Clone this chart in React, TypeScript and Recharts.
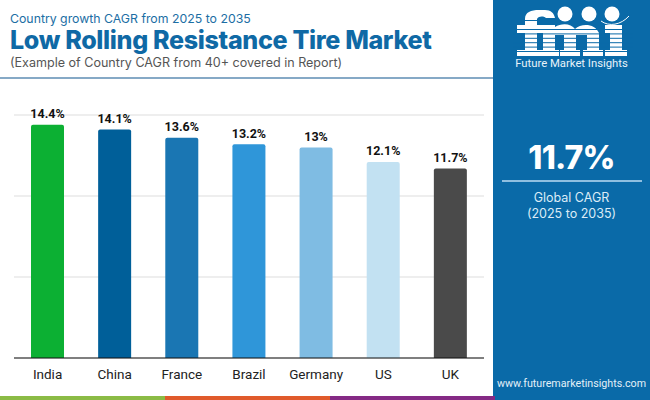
import React from "react";
import { BarChart, Bar, XAxis, YAxis, CartesianGrid, Cell, LabelList } from "recharts";

const countries = ["India", "China", "France", "Brazil", "Germany", "US", "UK"];
const cagr = [14.4, 14.1, 13.6, 13.2, 13, 12.1, 11.7];
const barColors = ["#0cb033", "#005f99", "#1a76b3", "#2f96d9", "#7fbce3", "#c2e1f2", "#4a4a4a"];
const yTicks = [0, 5, 10, 15];
const stripeColors = ["#8bbb45", "#e05a2b", "#852a85"];
const titleText = "Low Rolling Resistance Tire Market";
const kickerText = "Country growth CAGR from 2025 to 2035";
const noteText = "(Example of Country CAGR from 40+ covered in Report)";
const globalValue = "11.7%";

const rows = countries.map((name, i) => ({ name, value: cagr[i] }));
const abs = (l: number, t: number, extra: React.CSSProperties = {}): React.CSSProperties => ({
  position: "absolute", left: l, top: t, whiteSpace: "nowrap", ...extra,
});
const logoStripes = [0, 1, 2, 3, 4, 5];
const BLUE = "#0a6aa8";

function Logo() {
  return (
    <svg style={abs(493, 0)} width={157} height={60}>
      <g fill="#fff">
        {/* f */}
        <path d="M32 56V19C32 12 38 10 46 10H52C58 10 61 13 62 18H53C50 16 46 16 44 19V25H52V33H44V50H50V56H24V50H32V33H24V25H32Z" />
        {/* m */}
        <path d="M47 25H62V27C68 23 78 23 82 29C88 23 102 23 106 33V50H110V56H90V50H94V35H83V50H87V56H67V50H71V35H62V50H66V56H47V50H50V33H47Z" />
        {/* i */}
        <path d="M112 25H129V50H134V56H112V50H117V33H112Z" />
      </g>
      {logoStripes.map((s) => <rect key={s} x={20} y={29 + s * 4.4} width={120} height={1} fill={BLUE} />)}
      <rect x={28} y={20} width={32} height={1} fill={BLUE} />
      <circle cx={72} cy={14} r={7.5} fill="#fff" />
      <circle cx={96} cy={14} r={7.5} fill="#fff" />
      <circle cx={119} cy={14} r={7.5} fill="#fff" />
      <path d="M108 21C116 27 128 25 136 16" fill="none" stroke="#fff" strokeWidth={1} />
    </svg>
  );
}

export default function App() {
  return (
    <div style={{ position: "absolute", left: 0, top: 0, width: 650, height: 400, background: "#fff", overflow: "hidden", fontFamily: "Inter, sans-serif" }}>
      <div style={abs(10, 9.5, { fontSize: 12.3, lineHeight: "18px", color: "#1c6ea4" })}>{kickerText}</div>
      <div style={abs(10, 24, { fontSize: 25.1, lineHeight: "32px", fontWeight: 800, color: "#0f69a5", letterSpacing: -0.35 })}>{titleText}</div>
      <div style={abs(10, 54, { fontSize: 12.55, lineHeight: "18px", color: "#555" })}>{noteText}</div>
      <div style={abs(0, 77, { width: 493, height: 2, background: "#86a9c6" })} />

      <div style={abs(0, 0)}>
        <BarChart width={493} height={400} data={rows} margin={{ top: 115, right: 9, bottom: 0, left: 14 }}>
          <CartesianGrid horizontal vertical={false} stroke="#dddddd" strokeWidth={1} />
          <YAxis hide domain={[0, 15]} ticks={yTicks} />
          <XAxis dataKey="name" axisLine={{ stroke: "#111", strokeWidth: 1 }} tickLine={false} interval={0} height={42}
            tick={{ fontFamily: "Roboto", fontSize: 13.5, fill: "#222" }} tickMargin={5} />
          <Bar dataKey="value" barSize={33} radius={[2, 2, 0, 0]} isAnimationActive={false}>
            {rows.map((r, i) => <Cell key={r.name} fill={barColors[i]} />)}
            <LabelList dataKey="value" position="top" offset={6.5} formatter={(v: number) => `${v}%`}
              style={{ fontFamily: "Roboto", fontSize: 12.5, fontWeight: 700, fill: "#111" }} />
          </Bar>
        </BarChart>
      </div>

      <div style={abs(493, 0, { width: 157, height: 400, background: BLUE })} />
      <Logo />
      <div style={abs(493, 57, { width: 157, textAlign: "center", fontFamily: "Roboto", fontSize: 11.3, lineHeight: "14px", color: "#e8f3fa" })}>Future Market Insights</div>
      <div style={abs(493, 136, { width: 157, textAlign: "center", fontSize: 32, lineHeight: "44px", fontWeight: 800, color: "#fff", letterSpacing: -0.8 })}>{globalValue}</div>
      <div style={abs(502, 180, { width: 140, height: 1.5, background: "#8fbfe0" })} />
      <div style={abs(493, 189, { width: 157, textAlign: "center", fontSize: 12.5, lineHeight: "17px", color: "#dcecf7" })}>Global CAGR</div>
      <div style={abs(493, 205, { width: 157, textAlign: "center", fontSize: 12.5, lineHeight: "17px", color: "#dcecf7" })}>(2025 to 2035)</div>
      <div style={abs(493, 377, { width: 157, textAlign: "center", fontFamily: "Roboto", fontSize: 10.7, lineHeight: "14px", color: "#e3f0f8" })}>www.futuremarketinsights.com</div>

      {stripeColors.map((c, i) => <div key={c} style={abs(i * 165, 396, { width: 165, height: 4, background: c })} />)}
    </div>
  );
}
